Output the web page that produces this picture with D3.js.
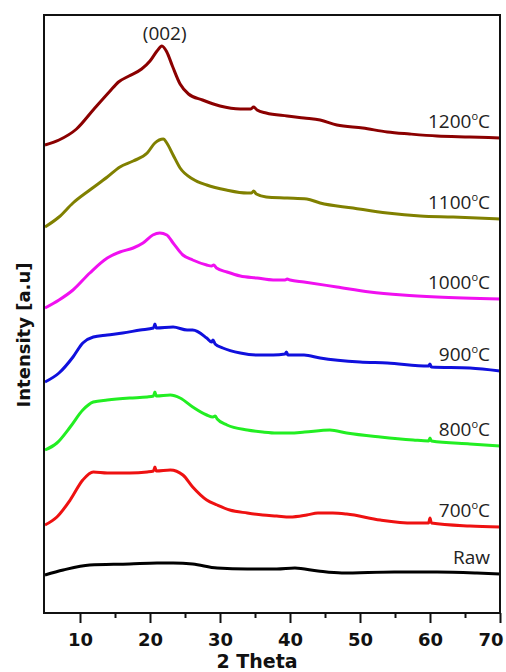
<!DOCTYPE html>
<html><head><meta charset="utf-8">
<script src="https://cdn.jsdelivr.net/npm/d3@7"></script>
<style>html,body{margin:0;padding:0;background:#fff;}</style>
</head><body>
<svg id="c" width="506" height="672"></svg>
<script>
// ---- data (2θ in degrees, intensity in a.u.) ----
const seriesNames = ["1200", "1100", "1000", "900", "800", "700", "Raw"];
const seriesColors = ["#8b0000", "#808000", "#f010f0", "#1010dd", "#22ee22", "#ee1111", "#000000"];

const theta1200 = [5,7,9.5,12,14.3,15.5,17,18.8,20,21,21.7,22.4,23.2,24.3,25.5,27.5,30,32.9,34.4,34.8,35.3,36.6,39.6,42,44.3,46.7,50.4,53.9,57.1,61,65.7,70];
const int1200   = [468,473,484,504,522,531,537,544,552,562,567,561,547,529,519,513,507,504,504,506,503,500,497,495,493,488,485,481,479,477,476,475];

const theta1100 = [5,7,9,11.4,13.9,15.7,17.6,19.6,20.7,21.9,22.4,23.3,24.3,26.1,28.1,30.9,33.9,34.5,34.8,35.2,36.6,39.6,42.4,44.3,49,53.9,58.6,63.3,70];
const int1100   = [386,396,410,423,436,446,452,460,470,474,470,458,445,434,428,423,420,420,422,419,416,415,414,410,405,400,397,396,394];

const theta1000 = [5,7,9,11.4,13.9,15.7,17.6,19,20.4,21.4,22.4,23.3,24.7,26.1,28.1,28.8,29.1,29.5,31,32.9,35.3,37.6,39.3,39.6,40,42,46.7,51.4,56.1,61,70];
const int1000   = [305,313,323,340,355,361,365,370,378,380,378,370,358,353,348,347,348,345,341,337,335,333,333,334,333,331,326,321,318,316,314];

const theta900 = [5,7,9,10.4,11.9,13.9,16.1,18.6,20.5,20.7,20.9,23.3,25.3,26.1,28.1,28.8,29,29.3,30.4,32.9,35.3,37.6,39.3,39.5,39.7,42,44.3,50,53.9,59.8,60,60.2,65.7,70];
const int900   = [231,240,256,270,276,278,280,283,285,289,285,286,283,283,275,271,273,269,265,260,258,258,259,261,258,258,255,251,250,247,249,246,245,242];

const theta800 = [5,6.7,8.6,10.4,11.9,13.9,17.1,19.6,20.5,20.7,20.9,22.9,24.3,26.1,28.1,29,29.3,29.6,31,33.9,36.1,38.1,40,42.1,45.7,48.1,52.9,57.6,59.8,60,60.2,65.7,70];
const int800   = [163,170,186,203,211,213,215,216,217,221,217,218,215,206,198,196,197,194,188,183,181,180,180,181,183,180,176,173,172,175,172,169,167];

const theta700 = [5,6.7,8.6,10.4,11.9,13.9,17.1,19.6,20.5,20.7,20.9,22.9,24.7,26.1,28.1,29.6,31.4,33.9,36.1,38.1,40,42.4,44,46.1,48.1,52.9,57.6,59.8,60,60.2,65.7,70];
const int700   = [88,96,113,133,141,140,140,141,142,146,142,143,138,126,113,108,103,100,98,97,96,98,100,100,99,93,90,90,95,90,87,86];

const thetaRaw = [5,7.6,11.4,17.1,21,23.3,26.1,29.6,33.9,38.1,40.7,44,47.4,54.9,61,66.7,70];
const intRaw   = [38,43,48,49,50,50,49,45,44,44,45,42,40,41,41,40,39];

const xTicks = [10,20,30,40,50,60,70];
const xMinorTicks = [15,25,35,45,55,65];
const peakLabel = "(002)";
const peakTheta = 22.1;
const peakIntensity = 570;

const thetas = [theta1200, theta1100, theta1000, theta900, theta800, theta700, thetaRaw];
const ints = [int1200, int1100, int1000, int900, int800, int700, intRaw];

// ---- layout ----
const svg = d3.select("#c");
const L = 45, R = 500, T = 15, B = 613;
const x = d3.scaleLinear().domain([5, 70]).range([L, R]);
const y = d3.scaleLinear().domain([0, 598]).range([B, T]);

// curves
const line = d3.line().curve(d3.curveMonotoneX).x(d => x(d[0])).y(d => y(d[1]));
seriesNames.forEach((name, i) => {
  const pts = thetas[i].map((t, j) => [t, ints[i][j]]);
  svg.append("path").datum(pts)
    .attr("d", line)
    .attr("fill", "none")
    .attr("stroke", seriesColors[i])
    .attr("stroke-width", 3)
    .attr("stroke-linejoin", "round");
  // label
  const last = ints[i][ints[i].length - 1];
  const t = svg.append("text")
    .attr("x", 490).attr("y", y(last) - 10)
    .attr("text-anchor", "end")
    .attr("font-family", "Open Sans, sans-serif")
    .attr("font-size", 19)
    .attr("fill", "#222");
  if (name === "Raw") {
    t.text("Raw");
  } else {
    t.append("tspan").text(name);
    t.append("tspan").attr("font-size", 11).attr("dy", -8).text("o");
    t.append("tspan").attr("dy", 8).text("C");
  }
});

// peak label
svg.append("text")
  .attr("x", x(peakTheta)).attr("y", y(peakIntensity) - 3)
  .attr("text-anchor", "middle")
  .attr("font-family", "Open Sans, sans-serif")
  .attr("font-size", 19)
  .attr("fill", "#222")
  .text(peakLabel);

// frame
svg.append("rect").attr("x", 44).attr("y", T).attr("width", R - 44).attr("height", B - T)
  .attr("fill", "none").attr("stroke", "#111").attr("stroke-width", 2);

// x axis
const ax = svg.append("g").attr("transform", `translate(0,${B})`);
ax.call(d3.axisBottom(x).tickValues(xTicks).tickSize(10).tickPadding(10).tickFormat(d3.format("d")));
ax.select(".domain").remove();
ax.selectAll(".tick line").attr("stroke", "#111").attr("stroke-width", 2);
ax.selectAll(".tick text").attr("font-family", "DejaVu Sans, sans-serif")
  .attr("font-weight", "bold").attr("font-size", 18).attr("fill", "#111");
ax.selectAll(".tick text").filter(d => d === 70).attr("text-anchor", "end").attr("x", 3);
const axm = svg.append("g").attr("transform", `translate(0,${B})`);
axm.call(d3.axisBottom(x).tickValues(xMinorTicks).tickSize(5).tickFormat(""));
axm.select(".domain").remove();
axm.selectAll(".tick line").attr("stroke", "#111").attr("stroke-width", 2);

// axis titles
svg.append("text").attr("x", 257).attr("y", 668).attr("text-anchor", "middle")
  .attr("font-family", "DejaVu Sans, sans-serif").attr("font-weight", "bold")
  .attr("font-size", 19).attr("fill", "#111").text("2 Theta");
svg.append("text").attr("transform", "translate(30,335) rotate(-90)")
  .attr("text-anchor", "middle")
  .attr("font-family", "DejaVu Sans, sans-serif").attr("font-weight", "bold")
  .attr("font-size", 18).attr("fill", "#111").text("Intensity [a.u]");
</script>
</body></html>
